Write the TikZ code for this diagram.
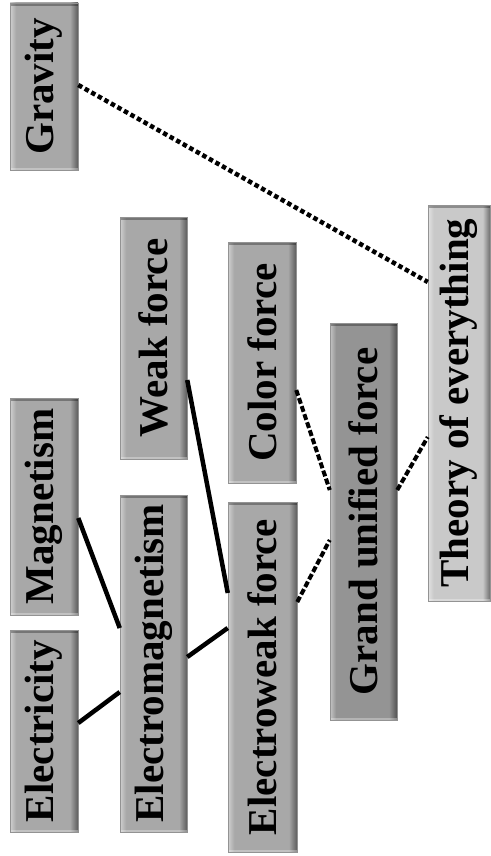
\documentclass[tikz,border=0pt]{standalone}
\usepackage{fontspec}
\setmainfont{Liberation Serif}
\usetikzlibrary{calc}
\colorlet{boxbase}{gray!68}
\colorlet{plaingray}{gray!68}
\colorlet{darkgray}{gray!84}
\colorlet{lightgray}{gray!42}
% bevelled face: light left strip, dark right strip
\pgfdeclarehorizontalshading[boxbase]{bevel}{100bp}{%
  color(0bp)=(boxbase!55!white); color(25bp)=(boxbase!55!white);
  color(29.5bp)=(boxbase); color(69bp)=(boxbase);
  color(75bp)=(boxbase!55!black); color(100bp)=(boxbase!55!black)}
\tikzset{
  forcebox/.style={draw=gray!85, line width=0.5pt, inner sep=0pt,
    /utils/exec={\colorlet{boxbase}{#1}}, shading=bevel,
    path picture={
      \fill[black, opacity=0.3] (path picture bounding box.north west)
        rectangle ([yshift=-3pt]path picture bounding box.north east);
      \fill[white, opacity=0.3] (path picture bounding box.south west)
        rectangle ([yshift=2pt]path picture bounding box.south east);},
    font=\fontsize{41}{42}\bfseries},
  forcebox/.default=plaingray,
  link/.style={line width=4.5pt},
  dotlink/.style={line width=4.5pt, dash pattern=on 4.5pt off 3pt},
  dashlink/.style={line width=4pt, dash pattern=on 6pt off 2.5pt}
}
\newcommand{\vtext}[1]{\rotatebox{90}{#1}}
\begin{document}
\begin{tikzpicture}[x=1pt,y=-1pt]
  \useasboundingbox (0,0) rectangle (490,856);
  % left column
  \node[forcebox, minimum width=68pt, minimum height=167pt] (grav) at (44,86.5) {\vtext{Gravity}};
  \node[forcebox, minimum width=68pt, minimum height=217pt] (mag) at (44,506.5) {\vtext{Magnetism}};
  \node[forcebox, minimum width=68pt, minimum height=202pt] (elec) at (44,731) {\vtext{Electricity}};
  % second column
  \node[forcebox, minimum width=67pt, minimum height=242pt] (weak) at (153.5,338) {\vtext{Weak force}};
  \node[forcebox, minimum width=67pt, minimum height=337pt] (emag) at (153.5,663.5) {\vtext{Electromagnetism}};
  % third column
  \node[forcebox, minimum width=68pt, minimum height=241pt] (color) at (262,362.5) {\vtext{Color force}};
  \node[forcebox, minimum width=69pt, minimum height=350pt] (ew) at (262.5,677) {\vtext{Electroweak force}};
  % unified
  \node[forcebox=darkgray, minimum width=67pt, minimum height=397pt] (gut) at (363.5,521.5) {\vtext{Grand unified force}};
  \node[forcebox=lightgray, minimum width=62pt, minimum height=396pt] (toe) at (459,403) {\vtext{Theory of everything}};
  % solid links
  \draw[link] ($(mag.east)+(0,11.5)$) -- ($(emag.west)+(0,-35.5)$);
  \draw[link] ($(elec.east)+(0,-8)$) -- ($(emag.west)+(0,28.5)$);
  \draw[link] ($(emag.east)+(0,-6.5)$) -- ($(ew.west)+(0,-49)$);
  \draw[link] ($(weak.east)+(0,42)$) -- ($(ew.west)+(0,-84)$);
  % dashed links
  \draw[dashlink] ($(color.east)+(0,27.5)$) -- ($(gut.west)+(0,-31.5)$);
  \draw[dashlink] ($(ew.east)+(0,-75)$) -- ($(gut.west)+(0,18.5)$);
  \draw[dashlink] ($(gut.east)+(0,-31.5)$) -- ($(toe.west)+(0,34)$);
  \draw[dotlink] ($(grav.east)+(0,-1.5)$) -- ($(toe.west)+(0,-121)$);
\end{tikzpicture}
\end{document}
